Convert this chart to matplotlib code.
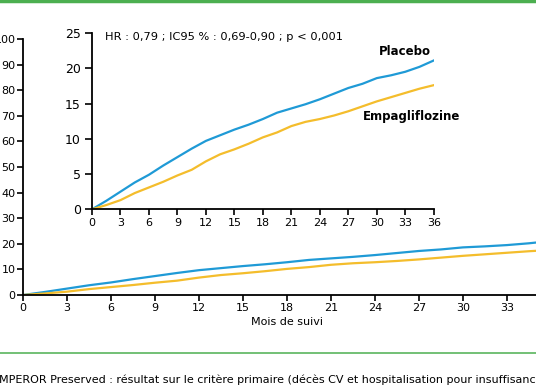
import matplotlib
matplotlib.use("Agg")
import matplotlib.pyplot as plt
from matplotlib.lines import Line2D

# Kaplan-Meier style cumulative incidence (%)
months = [0, 1.5, 3, 4.5, 6, 7.5, 9, 10.5, 12, 13.5, 15, 16.5, 18, 19.5, 21,
          22.5, 24, 25.5, 27, 28.5, 30, 31.5, 33, 34.5, 36]
placebo = [0, 1.2, 2.5, 3.8, 4.9, 6.2, 7.4, 8.6, 9.7, 10.5, 11.3, 12.0, 12.8,
           13.7, 14.3, 14.9, 15.6, 16.4, 17.2, 17.8, 18.6, 19.0, 19.5, 20.2, 21.1]
empa = [0, 0.6, 1.3, 2.3, 3.1, 3.9, 4.8, 5.6, 6.8, 7.8, 8.5, 9.3, 10.2,
        10.9, 11.8, 12.4, 12.8, 13.3, 13.9, 14.6, 15.3, 15.9, 16.5, 17.1, 17.6]

main_yticks = [0, 10, 20, 30, 40, 50, 60, 70, 80, 90, 100]
inset_yticks = [0, 5, 10, 15, 20, 25]
xticks = [0, 3, 6, 9, 12, 15, 18, 21, 24, 27, 30, 33, 36]

blue = '#1f9ad6'
yellow = '#f4bd2c'
green = '#4caf50'

fig = plt.figure(figsize=(5.36, 3.86), dpi=100)

# main chart (cropped on the right in the original)
ax = fig.add_axes([23/536, 91/386, 528/536, 256/386])
ax.plot(months, placebo, color=blue, lw=1.6)
ax.plot(months, empa, color=yellow, lw=1.6)
ax.set_xlim(0, 36)
ax.set_ylim(0, 100)
ax.set_xticks(xticks)
ax.set_yticks(main_yticks)
ax.spines[['top', 'right']].set_visible(False)
for s in ['left', 'bottom']:
    ax.spines[s].set_linewidth(1.3)
ax.tick_params(width=1.2, length=4, labelsize=8, pad=1.5)
ax.set_xlabel("Mois de suivi", fontsize=8, labelpad=3)

# inset zoom
ax2 = fig.add_axes([92/536, 176.7/386, 341.7/536, 176.3/386])
ax2.plot(months, placebo, color=blue, lw=1.6)
ax2.plot(months, empa, color=yellow, lw=1.6)
ax2.set_xlim(0, 36)
ax2.set_ylim(0, 25)
ax2.set_xticks(xticks)
ax2.set_yticks(inset_yticks)
ax2.spines[['top', 'right']].set_visible(False)
for s in ['left', 'bottom']:
    ax2.spines[s].set_linewidth(1.3)
ax2.tick_params(axis='y', width=1.2, length=5, labelsize=9, pad=3)
ax2.tick_params(axis='x', width=1.2, length=4, labelsize=8, pad=2)
ax2.text(1.4, 24.4, "HR : 0,79 ; IC95 % : 0,69-0,90 ; p < 0,001",
         fontsize=8.2, va='center', ha='left')
ax2.text(33.0, 22.4, "Placebo", fontsize=8.5, fontweight='bold', ha='center', va='center')
ax2.text(33.7, 13.1, "Empagliflozine", fontsize=8.5, fontweight='bold', ha='center', va='center')

# green rules and caption from the page
fig.add_artist(Line2D([0, 1], [0.998, 0.998], transform=fig.transFigure, color=green, lw=2.5))
fig.add_artist(Line2D([0, 1], [33.3/386, 33.3/386], transform=fig.transFigure, color=green, lw=1.1))
fig.text(-0.002, 3/386, "MPEROR Preserved : résultat sur le critère primaire "
         "(décès CV et hospitalisation pour insuffisance cardiaque)",
         fontsize=8.0, ha='left', va='baseline')

fig.savefig("out.png", dpi=100)
